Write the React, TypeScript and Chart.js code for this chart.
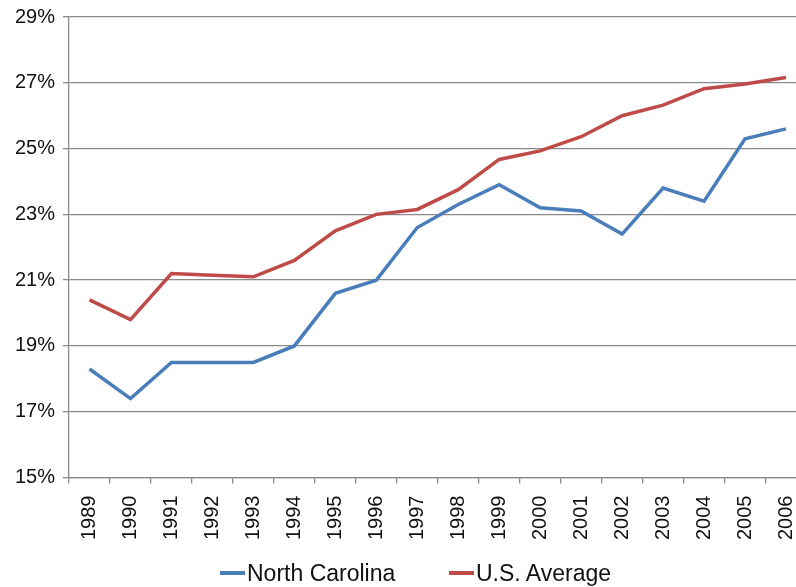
import React, { useEffect, useRef } from "react";
import { Chart, registerables } from "chart.js";

Chart.register(...registerables);

const years = ["1989", "1990", "1991", "1992", "1993", "1994", "1995", "1996", "1997", "1998", "1999", "2000", "2001", "2002", "2003", "2004", "2005", "2006"];
const northCarolina = [18.3, 17.4, 18.5, 18.5, 18.5, 19.0, 20.6, 21.0, 22.6, 23.3, 23.9, 23.2, 23.1, 22.4, 23.8, 23.4, 25.3, 25.6];
const usAverage = [20.4, 19.8, 21.2, 21.15, 21.1, 21.6, 22.5, 23.0, 23.15, 23.75, 24.67, 24.93, 25.36, 26.0, 26.32, 26.82, 26.96, 27.16];
const yMin = 15;
const yMax = 29;
const yStep = 2;

const seriesNames = ["North Carolina", "U.S. Average"];
const seriesColors = ["#4a7ebb", "#be4b48"];
const FONT = "'Liberation Sans', Arial, Helvetica, sans-serif";

export default function App() {
  const ref = useRef<HTMLCanvasElement>(null);

  useEffect(() => {
    const chart = new Chart(ref.current!, {
      type: "line",
      data: {
        labels: years,
        datasets: [
          {
            label: seriesNames[0],
            data: northCarolina,
            borderColor: seriesColors[0],
            backgroundColor: seriesColors[0],
            borderWidth: 3.5,
            pointRadius: 0,
            tension: 0,
          },
          {
            label: seriesNames[1],
            data: usAverage,
            borderColor: seriesColors[1],
            backgroundColor: seriesColors[1],
            borderWidth: 3.5,
            pointRadius: 0,
            tension: 0,
          },
        ],
      },
      options: {
        animation: false,
        responsive: true,
        maintainAspectRatio: false,
        layout: { padding: { top: 3, left: 7, right: 0, bottom: 10 } },
        plugins: { legend: { display: false }, tooltip: { enabled: false } },
        scales: {
          x: {
            offset: true,
            grid: {
              offset: true,
              drawOnChartArea: false,
              drawTicks: true,
              tickLength: 6,
              color: "#8a8a8a",
              lineWidth: 1.3,
            },
            border: { color: "#8a8a8a", width: 1.3 },
            ticks: {
              minRotation: 90,
              maxRotation: 90,
              autoSkip: false,
              padding: 12,
              color: "#111",
              font: { family: FONT, size: 20 },
            },
          },
          y: {
            min: yMin,
            max: yMax,
            grid: {
              color: "#8a8a8a",
              lineWidth: 1.3,
              tickLength: 6,
            },
            border: { color: "#8a8a8a", width: 1.3 },
            ticks: {
              stepSize: yStep,
              padding: 8,
              color: "#111",
              font: { family: FONT, size: 20, lineHeight: 0.9 },
              callback: (v: any) => `${v}%`,
            },
          },
        },
      },
    });
    return () => chart.destroy();
  }, []);

  const legendItem = (i: number, left: number) => (
    <div
      key={i}
      style={{
        position: "absolute",
        left,
        top: 559,
        height: 28,
        display: "flex",
        alignItems: "center",
        fontFamily: FONT,
        fontSize: 23,
        color: "#111",
        whiteSpace: "nowrap",
      }}
    >
      <span style={{ display: "inline-block", width: 25, height: 4, background: seriesColors[i], marginRight: 2 }} />
      <span>{seriesNames[i]}</span>
    </div>
  );

  return (
    <div style={{ position: "fixed", left: 0, top: 0, width: 796, height: 587, overflow: "hidden", background: "#fff" }}>
      <div style={{ position: "absolute", left: 0, top: 0, width: 822, height: 562 }}>
        <canvas ref={ref} />
      </div>
      {legendItem(0, 220)}
      {legendItem(1, 449)}
    </div>
  );
}
